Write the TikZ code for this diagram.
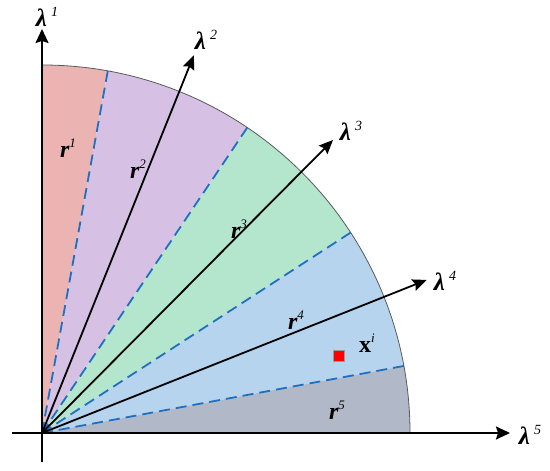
\documentclass[tikz,border=0pt]{standalone}
\usepackage{fontspec}
\setmainfont{Liberation Serif}
\usetikzlibrary{arrows.meta}
\definecolor{cRed}{RGB}{235,180,178}
\definecolor{cPur}{RGB}{214,193,228}
\definecolor{cGrn}{RGB}{179,230,204}
\definecolor{cBlu}{RGB}{182,212,237}
\definecolor{cGry}{RGB}{177,185,200}
\definecolor{cDash}{RGB}{32,112,192}
\newcommand\lamlab[1]{{\fontsize{12.5}{14}\selectfont\bfseries\itshape λ}\hspace{2pt}\raisebox{1.1ex}{\fontsize{7}{8}\selectfont\itshape #1}}
\newcommand\rlab[1]{{\fontsize{12}{14}\selectfont\bfseries\itshape r}\raisebox{1.05ex}{\fontsize{6.5}{7}\selectfont\itshape #1}}
\begin{document}
\begin{tikzpicture}[x=0.5pt,y=0.5pt,
  bound/.style={cDash,line width=0.9pt,dash pattern=on 5.5pt off 3pt},
  vec/.style={line width=0.9pt,-{Stealth[length=7pt,width=6pt,inset=1pt]}},
  axis/.style={line width=0.9pt,-{Stealth[length=7pt,width=6.5pt,inset=1pt]}},
  lab/.style={inner sep=0pt}]
\useasboundingbox (-42,-37) rectangle (508,433);
\coordinate (O) at (0,0);
\def\R{368}
% sectors
\fill[cRed] (O) -- (79.7:\R) arc[start angle=79.7,end angle=90,radius=\R] -- cycle;
\fill[cPur] (O) -- (56.1:\R) arc[start angle=56.1,end angle=79.7,radius=\R] -- cycle;
\fill[cGrn] (O) -- (33:\R) arc[start angle=33,end angle=56.1,radius=\R] -- cycle;
\fill[cBlu] (O) -- (10.5:\R) arc[start angle=10.5,end angle=33,radius=\R] -- cycle;
\fill[cGry] (O) -- (0:\R) arc[start angle=0,end angle=10.5,radius=\R] -- cycle;
% boundaries
\coordinate (b1) at (79.7:\R);
\coordinate (b2) at (56.1:\R);
\coordinate (b3) at (33:\R);
\coordinate (b4) at (10.5:\R);
\foreach \b in {b1,b2,b3,b4} \draw[bound] (O) -- (\b);
\draw[gray!70!black,line width=0.4pt] (90:\R) arc[start angle=90,end angle=0,radius=\R];
% axes
\coordinate (ybot) at (0,-29);
\coordinate (ytop) at (0,404);
\coordinate (xleft) at (-30,0);
\coordinate (xright) at (468,0);
\draw[line width=0.9pt] (ybot) -- (O);
\draw[line width=0.9pt] (xleft) -- (O);
\draw[axis] (O) -- (ytop);
\draw[axis] (O) -- (xright);
% vectors
\coordinate (v2) at (68.1:407);
\coordinate (v3) at (45.2:413);
\coordinate (v4) at (21.7:414);
\draw[vec] (O) -- (v2);
\draw[vec] (O) -- (v3);
\draw[vec] (O) -- (v4);
% labels
\node[lab] (L1) at (5,416) {\lamlab{1}};
\node[lab] (L2) at (164,393) {\lamlab{2}};
\node[lab] (L3) at (309,302) {\lamlab{3}};
\node[lab] (L4) at (403,152) {\lamlab{4}};
\node[lab] (L5) at (488,-2) {\lamlab{5}};
\node[lab] (R1) at (26,285) {\rlab{1}};
\node[lab] (R2) at (96,264) {\rlab{2}};
\node[lab] (R3) at (197,204) {\rlab{3}};
\node[lab] (R4) at (254,113) {\rlab{4}};
\node[lab] (R5) at (295,23) {\rlab{5}};
\node[lab] (XL) at (325,90) {{\fontsize{12}{14}\selectfont\bfseries x}\raisebox{1.05ex}{\fontsize{6.5}{7}\selectfont\itshape i}};
\node[fill=red,draw=gray!80,line width=0.6pt,minimum size=5.5pt,inner sep=0pt] (XP) at (297,77) {};
\end{tikzpicture}
\end{document}
